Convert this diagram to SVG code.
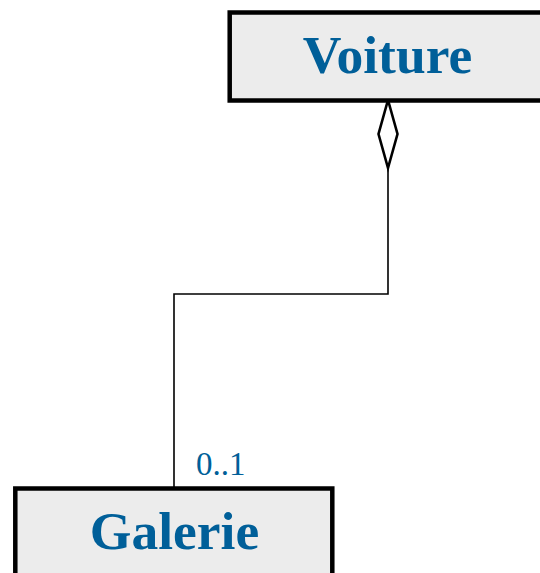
<svg xmlns="http://www.w3.org/2000/svg" width="540" height="573" viewBox="0 0 540 573">
<style>
.box{fill:#ececec;stroke:#000;stroke-width:4.5}
.name{font-family:"Liberation Serif","Times New Roman",serif;font-weight:bold;font-size:53.5px;fill:#005f99;text-anchor:middle}
.mult{font-family:"Liberation Serif","Times New Roman",serif;font-size:33px;fill:#005f99}
.conn{fill:none;stroke:#000;stroke-width:1.6}
</style>
<rect width="540" height="573" fill="#fff"/>
<g id="connectors">
<polyline class="conn" points="388,167 388,294 174,294 174,488"/>
<polygon points="388,100 397.5,134 388,168 378.5,134" fill="#fff" stroke="#000" stroke-width="2.6"/>
<text class="mult" x="196" y="474.5">0..1</text>
</g>
<g id="Voiture">
<rect class="box" x="229.7" y="12.5" width="317" height="88"/>
<text class="name" x="387.5" y="73">Voiture</text>
</g>
<g id="Galerie">
<rect class="box" x="15.3" y="488.5" width="317" height="100"/>
<text class="name" x="174.5" y="549">Galerie</text>
</g>
</svg>
